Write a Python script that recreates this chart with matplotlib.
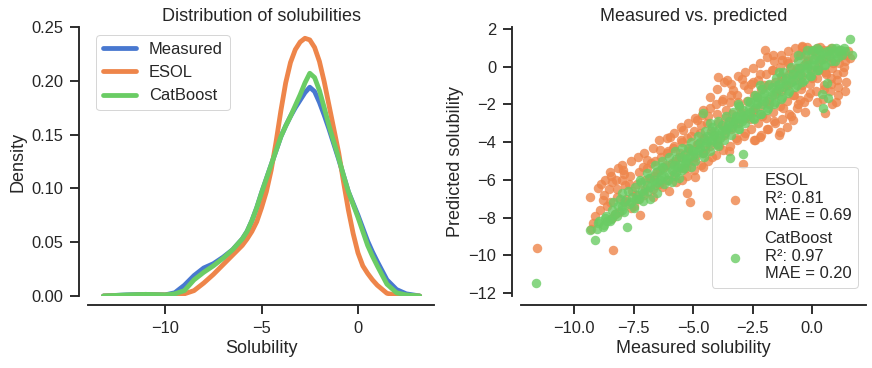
import matplotlib
matplotlib.use("Agg")
import matplotlib.pyplot as plt

plt.rcParams['font.family'] = ['Liberation Sans', 'DejaVu Sans']

# ---------------- data ----------------
# KDE curves
kde_x = [-13.2, -12.0, -11.0, -10.0, -9.5, -9.0, -8.5, -8.0, -7.5, -7.0, -6.5, -6.0,
         -5.75, -5.5, -5.25, -5.0, -4.75, -4.5, -4.25, -4.0, -3.75, -3.5, -3.25, -3.0,
         -2.75, -2.5, -2.25, -2.0, -1.75, -1.5, -1.25, -1.0, -0.75, -0.5, -0.25, 0.0,
         0.25, 0.5, 0.75, 1.0, 1.5, 2.0, 2.5, 3.2]
measured_density = [0.0, 0.001, 0.0015, 0.001, 0.003, 0.010, 0.019, 0.026, 0.030, 0.036,
                    0.043, 0.053, 0.060, 0.070, 0.082, 0.096, 0.109, 0.122, 0.135, 0.148,
                    0.158, 0.167, 0.175, 0.182, 0.189, 0.194, 0.190, 0.180, 0.168, 0.155,
                    0.141, 0.127, 0.112, 0.097, 0.086, 0.075, 0.063, 0.051, 0.041, 0.032,
                    0.015, 0.006, 0.002, 0.0]
esol_density = [0.0, 0.0005, 0.001, 0.001, 0.001, 0.002, 0.005, 0.012, 0.020, 0.029,
                0.038, 0.047, 0.053, 0.060, 0.069, 0.082, 0.097, 0.117, 0.143, 0.172,
                0.198, 0.217, 0.229, 0.236, 0.2395, 0.238, 0.231, 0.218, 0.199, 0.177,
                0.155, 0.133, 0.106, 0.080, 0.058, 0.040, 0.028, 0.021, 0.015, 0.010,
                0.0025, 0.0005, 0.0, 0.0]
catboost_density = [0.0, 0.001, 0.0015, 0.001, 0.002, 0.005, 0.015, 0.022, 0.028, 0.035,
                    0.043, 0.053, 0.060, 0.070, 0.082, 0.096, 0.109, 0.122, 0.135, 0.148,
                    0.158, 0.167, 0.177, 0.187, 0.198, 0.207, 0.203, 0.191, 0.175, 0.158,
                    0.143, 0.128, 0.112, 0.097, 0.085, 0.073, 0.060, 0.047, 0.037, 0.028,
                    0.011, 0.003, 0.001, 0.0]
kde_labels = ["Measured", "ESOL", "CatBoost"]

# Scatter: (measured, predicted) pairs
esol_pairs = [
    (-11.57, -9.63), (-8.35, -9.72), (-9.33, -6.89), (-9.19, -8.30), (-9.3, -8.6), (-9.1, -7.9),
    (-8.98, -6.45), (-8.77, -7.07), (-8.7, -6.0), (-8.6, -7.4), (-8.5, -5.6), (-8.4, -6.1),
    (-8.3, -7.8), (-8.2, -6.5), (-8.0, -5.21), (-8.0, -6.0), (-7.9, -5.7), (-7.8, -7.0),
    (-7.7, -6.2), (-7.5, -7.4), (-7.4, -6.8), (-7.23, -7.86), (-7.1, -5.3), (-7.0, -6.5),
    (-6.95, -4.95), (-6.8, -5.9), (-6.7, -6.9), (-6.6, -5.0), (-6.5, -5.6), (-6.39, -4.42),
    (-6.3, -6.4), (-6.2, -5.3), (-6.1, -4.6), (-5.97, -3.71), (-5.9, -5.1), (-5.8, -4.2),
    (-5.7, -6.1), (-5.6, -4.8), (-5.5, -3.9), (-5.41, -3.36), (-5.3, -5.4), (-5.27, -6.71),
    (-5.2, -4.5), (-5.13, -7.16), (-5.1, -3.7), (-5.0, -5.0), (-4.92, -5.83), (-4.85, -2.83),
    (-4.8, -4.1), (-4.7, -3.5), (-4.64, -2.56), (-4.6, -5.3), (-4.5, -4.4), (-4.43, -7.86),
    (-4.4, -3.0), (-4.3, -2.2), (-4.2, -4.8), (-4.1, -3.6), (-4.0, -2.5), (-3.94, -0.53),
    (-3.9, -4.2), (-3.8, -1.8), (-3.7, -3.2), (-3.6, -2.3), (-3.56, -0.71), (-3.5, -4.5),
    (-3.4, -1.5), (-3.31, -1.24), (-3.3, -2.9), (-3.2, -3.8), (-3.1, -1.9), (-3.0, -2.4),
    (-2.96, -0.67), (-2.89, -5.18), (-2.8, -3.5), (-2.7, -1.2), (-2.6, -2.8), (-2.5, -0.8),
    (-2.46, -2.30), (-2.4, -3.9), (-2.3, -1.6), (-2.2, -0.4), (-2.18, -3.71), (-2.1, -2.6),
    (-2.0, -1.0), (-1.97, 0.88), (-1.9, -3.3), (-1.8, -2.0), (-1.7, -0.2), (-1.62, 0.62),
    (-1.6, -2.9), (-1.5, -1.3), (-1.4, -3.6), (-1.34, -3.45), (-1.3, -0.5), (-1.27, 0.35),
    (-1.2, -2.2), (-1.1, -1.0), (-1.06, -3.18), (-1.0, 0.2), (-0.92, -0.09), (-0.9, -2.6),
    (-0.8, -1.5), (-0.78, -2.83), (-0.7, -0.3), (-0.6, -2.0), (-0.5, -1.77), (-0.5, 0.6),
    (-0.43, 1.06), (-0.4, -1.0), (-0.3, -2.4), (-0.22, 1.06), (-0.2, 0.3), (-0.1, -1.4),
    (0.0, -0.6), (0.1, 0.8), (0.2, -1.9), (0.3, -0.2), (0.34, 1.06), (0.4, 0.4),
    (0.5, -1.2), (0.55, -2.47), (0.6, -0.4), (0.7, 0.9), (0.8, -0.9), (0.9, 0.2),
    (1.0, -1.9), (1.04, -0.71), (1.11, -1.50), (1.2, 0.6), (1.3, -0.3), (1.4, 0.3),
    (1.6, 0.44), (1.5, 0.8),
    (-8.85, -6.2), (-8.75, -6.8), (-8.9, -7.6), (-8.45, -5.8), (-8.55, -6.5), (-8.5, -7.2),
    (-8.4, -8.0), (-8.15, -5.4), (-8.25, -6.0), (-8.2, -6.9), (-8.1, -7.7), (-7.95, -5.5),
    (-7.85, -6.3), (-7.9, -7.2), (-7.6, -5.0), (-7.65, -5.8), (-7.55, -6.6), (-7.6, -7.5),
    (-7.3, -4.8), (-7.25, -5.6), (-7.35, -6.2), (-7.3, -7.0), (-7.05, -4.6), (-6.95, -5.4),
    (-7.0, -6.0), (-7.05, -6.8), (-6.7, -4.3), (-6.75, -5.1), (-6.65, -5.8), (-6.7, -6.5),
    (-6.45, -3.9), (-6.35, -4.8), (-6.4, -5.5), (-6.45, -6.2), (-6.1, -3.8), (-6.05, -4.5),
    (-6.15, -5.2), (-6.1, -6.0), (-6.0, -6.6), (-5.8, -3.5), (-5.85, -4.3), (-5.75, -5.0),
    (-5.8, -5.7), (-5.5, -3.2), (-5.45, -4.0), (-5.55, -4.6), (-5.5, -5.4), (-5.45, -6.0),
    (-5.2, -3.0), (-5.25, -3.8), (-5.15, -4.3), (-5.2, -5.1), (-5.25, -5.8), (-4.9, -2.7),
    (-4.95, -3.4), (-4.85, -4.1), (-4.9, -4.8), (-4.95, -5.5), (-4.6, -2.3), (-4.65, -3.1),
    (-4.55, -3.8), (-4.6, -4.6), (-4.65, -5.2), (-4.3, -1.6), (-4.35, -2.6), (-4.25, -3.4),
    (-4.3, -4.2), (-4.35, -5.0), (-4.0, -1.2), (-4.05, -2.0), (-3.95, -3.0), (-4.0, -3.9),
    (-4.05, -4.7), (-3.7, -0.8), (-3.75, -1.7), (-3.65, -2.7), (-3.7, -3.6), (-3.75, -4.4),
    (-3.4, -0.9), (-3.45, -1.9), (-3.35, -2.5), (-3.4, -3.3), (-3.45, -4.2), (-3.1, -0.5),
    (-3.15, -1.5), (-3.05, -2.1), (-3.1, -3.0), (-3.15, -3.9), (-2.8, -0.3), (-2.85, -1.0),
    (-2.75, -1.8), (-2.8, -2.7), (-2.85, -3.7), (-2.5, -0.1), (-2.55, -0.9), (-2.45, -1.5),
    (-2.5, -2.4), (-2.55, -3.3), (-2.45, -3.9), (-2.2, 0.2), (-2.25, -0.7), (-2.15, -1.2),
    (-2.2, -2.1), (-2.25, -3.0), (-2.15, -3.6), (-1.9, 0.5), (-1.95, -0.4), (-1.85, -1.0),
    (-1.9, -1.8), (-1.95, -2.7), (-1.85, -3.3), (-1.6, 0.3), (-1.65, -0.2), (-1.55, -0.8),
    (-1.6, -1.5), (-1.65, -2.4), (-1.55, -3.0), (-1.3, 0.6), (-1.35, 0.0), (-1.25, -0.6),
    (-1.3, -1.3), (-1.35, -2.1), (-1.25, -2.8), (-1.0, 0.8), (-1.05, 0.3), (-0.95, -0.4),
    (-1.0, -1.0), (-1.05, -1.8), (-0.95, -2.5), (-0.7, 1.0), (-0.75, 0.5), (-0.65, -0.1),
    (-0.7, -0.7), (-0.75, -1.5), (-0.65, -2.2), (-0.4, 1.1), (-0.45, 0.7), (-0.35, 0.1),
    (-0.4, -0.5), (-0.45, -1.2), (-0.35, -1.9), (-0.1, 0.9), (-0.15, 0.4), (-0.05, -0.2),
    (-0.1, -0.9), (-0.15, -1.6), (0.2, 1.0), (0.15, 0.6), (0.25, 0.0), (0.2, -0.6),
    (0.15, -1.3), (0.5, 0.9), (0.45, 0.4), (0.55, -0.3), (0.5, -1.0), (0.45, -1.7),
    (0.8, 1.0), (0.75, 0.5), (0.85, -0.1), (0.8, -0.6), (0.75, -1.3), (0.85, -2.0),
    (1.1, 0.8), (1.15, 0.2), (1.05, -0.4), (1.1, -1.1), (1.4, 0.6), (1.35, 0.0),
    (1.45, -0.8), (1.4, -1.3),
]

catboost_pairs = [
    (-11.6, -11.48), (-9.33, -8.66), (-9.12, -9.19), (-9.0, -8.3), (-8.8, -8.5), (-8.7, -8.0),
    (-8.5, -8.2), (-8.4, -7.6), (-8.2, -7.9), (-8.0, -6.7), (-8.0, -7.4), (-7.9, -7.7),
    (-7.79, -8.48), (-7.6, -7.2), (-7.5, -7.5), (-7.3, -6.8), (-7.23, -6.01), (-7.1, -7.1),
    (-6.95, -5.65), (-6.9, -6.6), (-6.8, -7.0), (-6.6, -6.3), (-6.5, -6.7), (-6.4, -6.0),
    (-6.3, -5.3), (-6.2, -6.2), (-6.0, -5.7), (-5.9, -6.1), (-5.8, -5.2), (-5.7, -5.6),
    (-5.6, -5.9), (-5.5, -4.8), (-5.4, -5.4), (-5.3, -5.0), (-5.2, -4.3), (-5.1, -5.3),
    (-5.0, -4.7), (-4.9, -5.0), (-4.8, -4.4), (-4.7, -4.0), (-4.57, -2.47), (-4.6, -4.6),
    (-4.5, -4.2), (-4.4, -3.7), (-4.3, -4.5), (-4.2, -3.9), (-4.1, -3.4), (-4.0, -4.1),
    (-3.9, -3.6), (-3.8, -3.1), (-3.7, -3.9), (-3.6, -3.3), (-3.5, -2.9), (-3.45, -4.86),
    (-3.4, -3.6), (-3.3, -3.0), (-3.2, -2.6), (-3.1, -3.3), (-3.0, -2.8), (-2.9, -4.63),
    (-2.9, -2.3), (-2.8, -3.0), (-2.7, -2.5), (-2.6, -1.9), (-2.5, -2.7), (-2.4, -2.2),
    (-2.3, -1.6), (-2.2, -2.5), (-2.1, -2.0), (-2.0, -1.4), (-1.9, -2.3), (-1.8, -1.7),
    (-1.7, -1.1), (-1.6, -2.0), (-1.5, -1.4), (-1.4, -0.9), (-1.3, -1.7), (-1.2, -1.1),
    (-1.1, -0.6), (-1.0, -1.4), (-0.9, -0.8), (-0.8, -0.4), (-0.7, -1.1), (-0.6, -0.5),
    (-0.5, -0.1), (-0.4, -0.8), (-0.3, -0.3), (-0.2, 0.1), (-0.22, 0.9), (-0.1, -0.5),
    (0.0, 0.0), (0.06, 0.88), (0.1, 0.4), (0.2, -0.2), (0.3, 0.3), (0.4, 0.7),
    (0.41, -1.45), (0.48, -2.21), (0.5, 0.1), (0.6, 0.5), (0.62, -0.88), (0.69, -1.68),
    (0.7, 0.8), (0.8, 0.3), (0.9, 0.7), (1.0, 1.0), (1.1, 0.5), (1.2, 0.9),
    (1.6, 1.45), (1.67, 0.62),
    (-9.05, -8.6), (-8.95, -8.2), (-8.75, -8.4), (-8.65, -7.9), (-8.45, -8.1), (-8.35, -7.2),
    (-8.15, -7.4), (-8.05, -7.0), (-7.85, -7.1), (-7.75, -6.6), (-7.55, -6.9), (-7.45, -6.4),
    (-7.25, -7.0), (-7.15, -6.6), (-7.2, -6.1), (-6.95, -6.3), (-6.85, -5.9), (-6.65, -6.0),
    (-6.55, -5.6), (-6.6, -5.2), (-6.35, -5.8), (-6.25, -5.4), (-6.3, -5.0), (-6.05, -6.0),
    (-5.95, -5.2), (-6.0, -4.8), (-5.75, -5.8), (-5.65, -5.3), (-5.7, -4.9), (-5.75, -4.5),
    (-5.45, -5.5), (-5.35, -5.1), (-5.4, -4.7), (-5.45, -4.3), (-5.15, -4.8), (-5.05, -4.4),
    (-5.1, -4.0), (-4.85, -4.6), (-4.75, -4.1), (-4.8, -3.7), (-4.55, -4.8), (-4.45, -3.9),
    (-4.5, -3.4), (-4.25, -4.0), (-4.15, -3.6), (-4.2, -3.2), (-3.95, -4.2), (-3.85, -3.8),
    (-3.9, -3.3), (-3.95, -2.9), (-3.65, -3.5), (-3.55, -3.1), (-3.6, -2.6), (-3.35, -3.2),
    (-3.25, -2.8), (-3.3, -2.4), (-3.05, -3.3), (-2.95, -2.9), (-3.0, -2.5), (-3.05, -2.1),
    (-2.75, -2.6), (-2.65, -2.2), (-2.7, -1.8), (-2.45, -2.8), (-2.35, -1.9), (-2.4, -1.5),
    (-2.15, -2.5), (-2.05, -1.6), (-2.1, -1.2), (-1.85, -2.2), (-1.75, -1.3), (-1.8, -0.9),
    (-1.55, -1.9), (-1.45, -1.0), (-1.5, -0.6), (-1.25, -1.6), (-1.15, -0.7), (-1.2, -0.3),
    (-0.95, -1.3), (-0.85, -0.4), (-0.9, 0.0), (-0.65, -1.0), (-0.55, -0.1), (-0.6, 0.3),
    (-0.35, -0.7), (-0.25, 0.2), (-0.3, 0.6), (-0.05, -0.5), (0.05, 0.4), (0.0, 0.8),
    (0.25, -0.2), (0.35, 0.6), (0.3, 0.9), (0.55, 0.1), (0.65, 0.8), (0.85, 1.0),
    (0.95, 0.3), (1.25, 0.6), (1.15, 0.9), (1.4, 0.8), (1.35, 1.0),
    (-8.6, -8.2), (-8.3, -7.8), (-8.0, -7.6), (-7.7, -7.3), (-7.4, -7.0), (-7.1, -6.7),
    (-6.8, -6.4), (-6.5, -6.1), (-6.2, -5.8), (-5.9, -5.5), (-5.6, -5.2), (-5.3, -4.9),
    (-5.0, -4.5), (-4.7, -4.3), (-4.4, -4.0), (-4.1, -3.7), (-3.8, -3.4), (-3.5, -3.2),
    (-3.2, -2.9), (-2.9, -2.6), (-2.6, -2.4), (-2.3, -2.0), (-2.0, -1.8), (-1.7, -1.5),
    (-1.4, -1.2), (-1.1, -0.9), (-0.8, -0.7), (-0.5, -0.4), (-0.2, -0.1), (0.1, 0.1),
    (0.4, 0.4), (0.7, 0.6), (1.0, 0.7), (-4.3, -3.0), (-3.1, -2.0), (-2.2, -1.0),
    (-1.4, -0.3), (-0.6, 0.6), (0.2, 1.0),
]

esol_label = "ESOL\nR\u00b2: 0.81\nMAE = 0.69"
cat_label = "CatBoost\nR\u00b2: 0.97\nMAE = 0.20"

esol_measured = [p[0] for p in esol_pairs]
esol_predicted = [p[1] for p in esol_pairs]
cat_measured = [p[0] for p in catboost_pairs]
cat_predicted = [p[1] for p in catboost_pairs]

# ---------------- style ----------------
c_blue, c_orange, c_green = "#4878d0", "#ee854a", "#6acc64"
dark = "#262626"
plt.rcParams.update({
    "font.size": 16.5,
    "axes.labelsize": 18,
    "axes.titlesize": 18,
    "xtick.labelsize": 16.5,
    "ytick.labelsize": 16.5,
    "legend.fontsize": 16.5,
    "text.color": dark,
    "axes.labelcolor": dark,
    "xtick.color": dark,
    "ytick.color": dark,
    "axes.edgecolor": dark,
    "axes.linewidth": 1.875,
    "xtick.major.width": 1.875,
    "ytick.major.width": 1.875,
    "xtick.major.size": 9,
    "ytick.major.size": 9,
    "xtick.major.pad": 7,
    "ytick.major.pad": 7,
    "legend.frameon": True,
    "legend.edgecolor": "0.8",
})

fig = plt.figure(figsize=(872 / 72, 368 / 72), dpi=72)
ax1 = fig.add_axes([0.1009, 0.1957, 0.397, 0.731])
ax2 = fig.add_axes([0.5975, 0.1957, 0.3956, 0.731])

for dens, lab, col in zip([measured_density, esol_density, catboost_density], kde_labels,
                          [c_blue, c_orange, c_green]):
    ax1.plot(kde_x, dens, color=col, lw=4.8, label=lab, solid_capstyle="round",
             solid_joinstyle="round")
ax1.set_xlim(-14.0, 3.95)
ax1.set_ylim(0, 0.25)
ax1.set_yticks([0, 0.05, 0.10, 0.15, 0.20, 0.25])
ax1.set_xticks([-10, -5, 0])
ax1.set_xlabel("Solubility")
ax1.set_ylabel("Density")
ax1.set_title("Distribution of solubilities")
ax1.legend(loc="upper left")

ax2.scatter(esol_measured, esol_predicted, s=90, color=c_orange, alpha=0.8, linewidths=0,
            label=esol_label)
ax2.scatter(cat_measured, cat_predicted, s=90, color=c_green, alpha=0.8, linewidths=0,
            label=cat_label)
ax2.set_xlim(-12.23, 2.27)
ax2.set_ylim(-12.16, 2.1)
ax2.set_xticks([-10, -7.5, -5, -2.5, 0])
ax2.set_yticks([-12, -10, -8, -6, -4, -2, 0, 2])
ax2.set_xlabel("Measured solubility")
ax2.set_ylabel("Predicted solubility")
ax2.set_title("Measured vs. predicted")
ax2.legend(loc="lower right")

for ax in (ax1, ax2):
    for s in ("top", "right"):
        ax.spines[s].set_visible(False)
    ax.spines["left"].set_position(("outward", 9))
    ax.spines["bottom"].set_position(("outward", 9))

fig.savefig("out.png", dpi=72)
